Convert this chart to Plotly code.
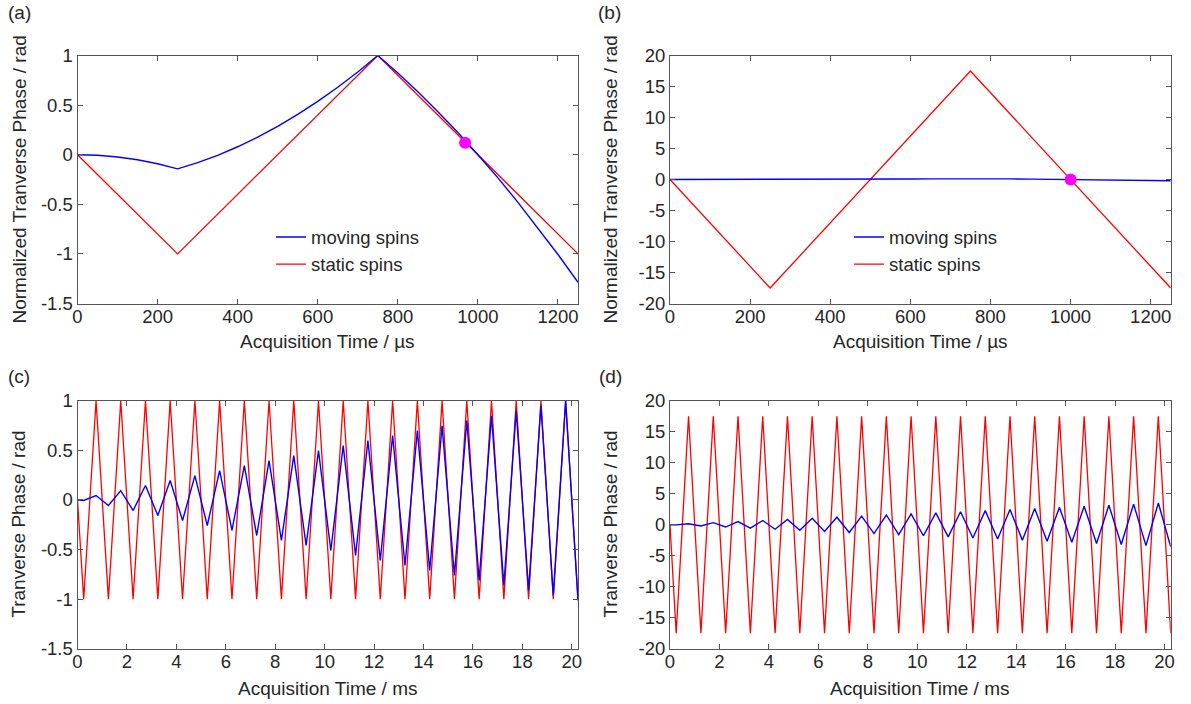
import plotly.graph_objects as go

# (a), (b): single echo, time in microseconds
t_us = [0, 50, 100, 150, 200, 250, 300, 350, 400, 450, 500, 550, 600, 650, 700, 750,
        800, 850, 900, 950, 1000, 1050, 1100, 1150, 1200, 1250]
moving_a = [0, -0.006, -0.023, -0.051, -0.091, -0.143, -0.080, -0.006, 0.080, 0.177, 0.286,
            0.406, 0.537, 0.680, 0.834, 1.0, 0.823, 0.634, 0.434, 0.223, 0.0, -0.234, -0.480,
            -0.737, -1.006, -1.286]
moving_b = [0, -0.001, -0.004, -0.008, -0.014, -0.022, -0.012, -0.001, 0.012, 0.027, 0.044,
            0.063, 0.083, 0.105, 0.128, 0.154, 0.127, 0.098, 0.067, 0.034, 0.0, -0.036, -0.074,
            -0.113, -0.155, -0.198]
t_static_us = [0, 250, 750, 1250]
static_a = [0, -1, 1, -1]
static_b = [0, -17.5, 17.5, -17.5]
echo_a = ([968], [0.12])
echo_b = ([1000], [0])

# (c), (d): echo train, time in milliseconds
t_ms = [0, 0.25, 0.75, 1.25, 1.75, 2.25, 2.75, 3.25, 3.75, 4.25, 4.75, 5.25, 5.75, 6.25,
        6.75, 7.25, 7.75, 8.25, 8.75, 9.25, 9.75, 10.25, 10.75, 11.25, 11.75, 12.25, 12.75,
        13.25, 13.75, 14.25, 14.75, 15.25, 15.75, 16.25, 16.75, 17.25, 17.75, 18.25, 18.75,
        19.25, 19.75, 20.25]
moving_c = [0, -0.006, 0.044, -0.057, 0.094, -0.107, 0.145, -0.157, 0.195, -0.208, 0.245,
            -0.258, 0.296, -0.308, 0.346, -0.359, 0.396, -0.409, 0.447, -0.459, 0.497, -0.510,
            0.547, -0.560, 0.598, -0.610, 0.648, -0.661, 0.698, -0.711, 0.748, -0.761, 0.799,
            -0.811, 0.849, -0.862, 0.899, -0.912, 0.950, -0.962, 1.000, -1.013]
static_c = [0] + [-1, 1] * 20 + [-1]
moving_d = [0, -0.021, 0.154, -0.198, 0.329, -0.375, 0.508, -0.55, 0.683, -0.728, 0.858,
            -0.903, 1.036, -1.078, 1.211, -1.257, 1.386, -1.432, 1.565, -1.607, 1.740, -1.785,
            1.915, -1.96, 2.093, -2.135, 2.268, -2.314, 2.443, -2.489, 2.618, -2.664, 2.797,
            -2.839, 2.972, -3.017, 3.147, -3.192, 3.325, -3.367, 3.5, -3.546]
static_d = [0] + [-17.5, 17.5] * 20 + [-17.5]

x_us_ticks = [0, 200, 400, 600, 800, 1000, 1200]
x_ms_ticks = [0, 2, 4, 6, 8, 10, 12, 14, 16, 18, 20]
y_small_ticks = [-1.5, -1, -0.5, 0, 0.5, 1]
y_small_text = ['-1.5', '-1', '-0.5', '0', '0.5', '1']
y_big_ticks = [-20, -15, -10, -5, 0, 5, 10, 15, 20]
y_big_text = ['-20', '-15', '-10', '-5', '0', '5', '10', '15', '20']

BLUE = '#0000ff'
RED = '#ff0000'
MAGENTA = '#ff00ff'
FONT = 'Liberation Sans, Arial, sans-serif'
TXT = '#262626'
W, H = 1191, 704

fig = go.Figure()

panels = [
    ('x', 'y', t_us, moving_a, t_static_us, static_a, echo_a, 'legend'),
    ('x2', 'y2', t_us, moving_b, t_static_us, static_b, echo_b, 'legend2'),
    ('x3', 'y3', t_ms, moving_c, t_ms, static_c, None, None),
    ('x4', 'y4', t_ms, moving_d, t_ms, static_d, None, None),
]
for xa, ya, tm, mv, ts, st, echo, leg in panels:
    show = leg is not None
    fig.add_trace(go.Scatter(x=ts, y=st, mode='lines', name='static spins', xaxis=xa, yaxis=ya,
                             line=dict(color=RED, width=1.3), showlegend=show,
                             legend=leg or 'legend', legendrank=2))
    fig.add_trace(go.Scatter(x=tm, y=mv, mode='lines', name='moving spins', xaxis=xa, yaxis=ya,
                             line=dict(color=BLUE, width=1.4), showlegend=show,
                             legend=leg or 'legend', legendrank=1))
    if echo:
        fig.add_trace(go.Scatter(x=echo[0], y=echo[1], mode='markers', xaxis=xa, yaxis=ya,
                                 marker=dict(color=MAGENTA, size=12), showlegend=False))


def px_x(p):
    return p / W


def px_y(p):
    return (H - p) / H


axis_common = dict(showline=True, linecolor='#555555', linewidth=1, mirror='ticks',
                   ticks='inside', ticklen=5, tickcolor='#555555', tickwidth=1,
                   showgrid=False, zeroline=False, automargin=False,
                   tickfont=dict(family=FONT, size=18.5, color=TXT))
xcommon = dict(axis_common, ticklabelstandoff=-4)
ycommon = dict(axis_common, ticklabelstandoff=0)

left_dom = [px_x(77.5), px_x(578)]
right_dom = [px_x(670), px_x(1170.7)]
top_dom = [px_y(303.5), px_y(55.5)]
bot_dom = [px_y(648.7), px_y(400.7)]

fig.update_layout(
    xaxis=dict(xcommon, domain=left_dom, range=[0, 1250], tickvals=x_us_ticks, anchor='y'),
    yaxis=dict(ycommon, domain=top_dom, range=[-1.5, 1], tickvals=y_small_ticks,
               ticktext=y_small_text, anchor='x'),
    xaxis2=dict(xcommon, domain=right_dom, range=[0, 1250], tickvals=x_us_ticks, anchor='y2'),
    yaxis2=dict(ycommon, domain=top_dom, range=[-20, 20], tickvals=y_big_ticks,
                ticktext=y_big_text, anchor='x2'),
    xaxis3=dict(xcommon, domain=left_dom, range=[0, 20.25], tickvals=x_ms_ticks, anchor='y3'),
    yaxis3=dict(ycommon, domain=bot_dom, range=[-1.5, 1], tickvals=y_small_ticks,
                ticktext=y_small_text, anchor='x3'),
    xaxis4=dict(xcommon, domain=right_dom, range=[0, 20.25], tickvals=x_ms_ticks, anchor='y4'),
    yaxis4=dict(ycommon, domain=bot_dom, range=[-20, 20], tickvals=y_big_ticks,
                ticktext=y_big_text, anchor='x4'),
)

legend_style = dict(font=dict(family=FONT, size=18.5, color=TXT), bgcolor='rgba(0,0,0,0)',
                    xanchor='left', yanchor='middle', tracegroupgap=0, itemwidth=30)
fig.update_layout(
    legend=dict(legend_style, x=px_x(271), y=px_y(251)),
    legend2=dict(legend_style, x=px_x(849), y=px_y(251)),
)

notes = [
    ('(a)', 19, 12, 0),
    ('(b)', 609, 12, 0),
    ('(c)', 19, 376, 0),
    ('(d)', 610, 376, 0),
    ('Acquisition Time / µs', 327.7, 341, 0),
    ('Acquisition Time / µs', 920.3, 341, 0),
    ('Acquisition Time / ms', 327.7, 688, 0),
    ('Acquisition Time / ms', 920.3, 688, 0),
    ('Normalized Tranverse Phase / rad', 19, 179.5, -90),
    ('Normalized Tranverse Phase / rad', 610, 179.5, -90),
    ('Tranverse Phase / rad', 19, 524.7, -90),
    ('Tranverse Phase / rad', 611, 524.7, -90),
]
for text, x, y, ang in notes:
    fig.add_annotation(text=text, x=px_x(x), y=px_y(y), xref='paper', yref='paper',
                       xanchor='center', yanchor='middle', textangle=ang, showarrow=False,
                       font=dict(family=FONT, size=19, color=TXT))

fig.update_layout(width=W, height=H, margin=dict(l=0, r=0, t=0, b=0),
                  paper_bgcolor='white', plot_bgcolor='white',
                  font=dict(family=FONT, color=TXT))

# the page's default 8px body margin would shift the whole figure
fig.write_html('out.html', config={'displayModeBar': False},
               post_script="document.body.style.margin = '0px';")
